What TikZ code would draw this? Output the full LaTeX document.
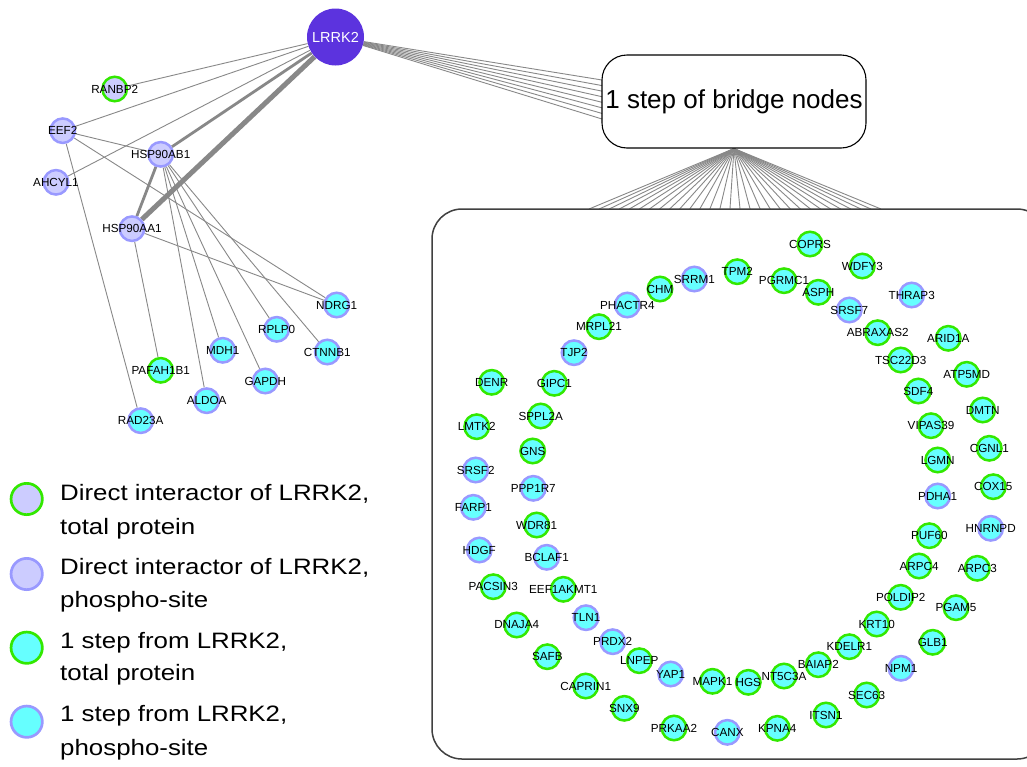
\documentclass[tikz,border=0pt]{standalone}
\usepackage{fontspec}
\setmainfont{Liberation Sans}
\newfontfamily\legendfont[FakeStretch=1.16]{Liberation Sans}
\usetikzlibrary{backgrounds}
\definecolor{lrrkc}{RGB}{92,51,222}
\definecolor{grn}{RGB}{51,232,0}
\definecolor{lav}{RGB}{153,153,255}
\definecolor{lavfill}{RGB}{204,204,255}
\definecolor{cyanfill}{RGB}{102,255,255}
\definecolor{edgec}{RGB}{136,136,136}
\tikzset{
  prot/.style={circle, minimum size=24.5pt, inner sep=0pt, line width=2.5pt},
  lab/.style={inner sep=0pt, font=\fontsize{11.7}{13}\selectfont},
  edge/.style={draw=edgec, line width=0.9pt},
  legcirc/.style={circle, minimum size=31.3pt, inner sep=0pt, line width=2.7pt},
  legtxt/.style={anchor=base west, inner sep=0pt, font=\legendfont\fontsize{22.3}{26}\selectfont},
}
\def\leftlist{RANBP2/114.7/89/grn/lavfill, EEF2/62.7/130.7/lav/lavfill, AHCYL1/56/182.3/lav/lavfill,
HSP90AB1/160.7/154.3/lav/lavfill, HSP90AA1/132/228.7/lav/lavfill, NDRG1/336.7/305/lav/cyanfill,
RPLP0/276.7/329.3/lav/cyanfill, CTNNB1/327.3/352/lav/cyanfill, MDH1/222.7/350.3/lav/cyanfill,
PAFAH1B1/160.7/370.3/grn/cyanfill, GAPDH/265.3/381/lav/cyanfill, ALDOA/206.7/400.7/lav/cyanfill,
RAD23A/140.7/420.7/lav/cyanfill}
\def\ringlist{CHM/660/289/grn, SRRM1/694.3/279/lav, TPM2/737.3/271.7/grn, PHACTR4/627.3/305/lav,
MRPL21/599/326.7/grn, TJP2/574/352.7/lav, DENR/491.7/382.3/grn, GIPC1/554.3/383.3/grn,
SPPL2A/540.7/416/grn, LMTK2/476.7/426.7/grn, GNS/532.7/451/grn, SRSF2/475.7/470/lav,
PPP1R7/533.3/488.3/lav, FARP1/473.3/507.3/lav, WDR81/536.7/525/grn, HDGF/479.3/550/lav,
BCLAF1/546.7/557.3/lav, PACSIN3/493.3/586.7/grn, EEF1AKMT1/563.3/589.3/grn, DNAJA4/516.7/625/grn,
TLN1/586/617.7/lav, PRDX2/612.7/641.7/lav, SAFB/547.3/656.7/grn, LNPEP/639.3/660.7/grn,
YAP1/670.7/674/lav, MAPK1/712.5/681.3/grn, CAPRIN1/585.7/686/grn, SNX9/624.3/708.3/grn,
PRKAA2/674/728/grn, CANX/727.3/732.3/lav, HGS/748.3/682.3/grn, NT5C3A/784/676/grn,
BAIAP2/818.3/664.7/grn, KDELR1/849.3/646.7/grn, KRT10/876.7/624/grn, POLDIP2/900.7/597.3/grn,
ARPC4/919/566/grn, PUF60/929.3/535.7/grn, HNRNPD/990.7/528.3/lav, ARPC3/977.3/568.3/grn,
PGAM5/956/607.7/grn, GLB1/932.7/642.3/grn, NPM1/901/668.3/lav, SEC63/866.7/695/grn,
ITSN1/826/715/grn, KPNA4/777.3/728.3/grn, COPRS/810/244/grn, WDFY3/862.3/266/grn,
PGRMC1/784/280.7/grn, ASPH/818.3/292.3/grn, THRAP3/911.7/295/lav, SRSF7/849.3/310/lav,
ABRAXAS2/877.7/332.7/grn, ARID1A/948.3/338.3/grn, TSC22D3/900.7/360/grn, ATP5MD/966.7/374.3/grn,
SDF4/918.3/391/grn, DMTN/982.7/410/grn, VIPAS39/931/425.7/grn, CGNL1/989.3/448.3/grn,
LGMN/937.7/460/grn, COX15/993.3/486.7/grn, PDHA1/937.7/496/lav}
\begin{document}
\begin{tikzpicture}[x=1pt,y=-1pt]
\useasboundingbox (0,0) rectangle (1027,766);
% boxes
\node[draw=black, rounded corners=25pt, line width=1.1pt, minimum width=264pt, minimum height=93pt,
  inner sep=0pt, font=\fontsize{26}{30}\selectfont] (bridge) at (734,101.5) {1 step of bridge nodes};
\node[draw=black!75, rounded corners=30pt, line width=1.5pt, minimum width=615pt, minimum height=550pt]
  (ring) at (739.5,484) {};
% LRRK2
\node[circle, fill=lrrkc, minimum size=57pt, inner sep=0pt, text=white,
  font=\fontsize{14.5}{16}\selectfont] (lrrk2) at (335.5,37) {LRRK2};
% protein circles
\foreach \n/\x/\y/\b/\f in \leftlist {\node[prot, draw=\b, fill=\f] (\n) at (\x,\y) {};}
\foreach \n/\x/\y/\b in \ringlist {\node[prot, draw=\b, fill=cyanfill] (\n) at (\x,\y) {};}
\foreach \n/\x/\y/\b/\f in \leftlist {\node[lab] (\n-l) at (\n) {\n};}
\foreach \n/\x/\y/\b in \ringlist {\node[lab] (\n-l) at (\n) {\n};}
% connector end points
\foreach \i in {0,...,7} {\coordinate (b\i) at (602,{80+\i*39/7});}
\foreach \i in {0,...,29} {\coordinate (r\i) at ({589+\i*292/29},209);}
\begin{scope}[on background layer]
  \fill[white] (0,0) rectangle (1027,766);
  \foreach \i in {0,...,7} {\draw[edge] (lrrk2) -- (b\i);}
  \foreach \i in {0,...,29} {\draw[edge] (bridge.south) -- (r\i);}
  \foreach \t in {RANBP2,EEF2,AHCYL1} {\draw[edge] (lrrk2) -- (\t);}
  \draw[edge, line width=2.8pt] (lrrk2) -- (HSP90AB1);
  \draw[edge, line width=5pt] (lrrk2) -- (HSP90AA1);
  \draw[edge, line width=2.8pt] (HSP90AB1) -- (HSP90AA1);
  \foreach \t in {HSP90AB1,NDRG1,RAD23A} {\draw[edge] (EEF2) -- (\t);}
  \foreach \t in {PAFAH1B1,NDRG1} {\draw[edge] (HSP90AA1) -- (\t);}
  \foreach \t in {ALDOA,MDH1,GAPDH,RPLP0,CTNNB1} {\draw[edge] (HSP90AB1) -- (\t);}
\end{scope}
% legend
\node[legcirc, draw=grn, fill=lavfill] (lg1) at (26.7,499) {};
\node[legcirc, draw=lav, fill=lavfill] (lg2) at (26.7,574) {};
\node[legcirc, draw=grn, fill=cyanfill] (lg3) at (26.7,647.7) {};
\node[legcirc, draw=lav, fill=cyanfill] (lg4) at (26.7,721.7) {};
\node[legtxt] (lt1a) at (60,500.7) {Direct interactor of LRRK2,};
\node[legtxt] (lt1b) at (60,534) {total protein};
\node[legtxt] (lt2a) at (60,574.3) {Direct interactor of LRRK2,};
\node[legtxt] (lt2b) at (60,607) {phospho-site};
\node[legtxt] (lt3a) at (60,648.3) {1 step from LRRK2,};
\node[legtxt] (lt3b) at (60,680.5) {total protein};
\node[legtxt] (lt4a) at (60,721.7) {1 step from LRRK2,};
\node[legtxt] (lt4b) at (60,755) {phospho-site};
\end{tikzpicture}
\end{document}
